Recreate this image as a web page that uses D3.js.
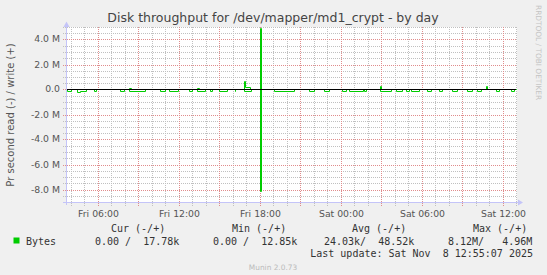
<!DOCTYPE html>
<html>
<head>
<meta charset="utf-8">
<script src="https://cdn.jsdelivr.net/npm/d3@7"></script>
<style>
  body { margin: 0; background: #f0f0f0; }
  svg { display: block; }
  text { font-family: "DejaVu Sans", sans-serif; }
  .mono { font-family: "DejaVu Sans Mono", monospace; white-space: pre; }
</style>
</head>
<body>
<svg id="munin-chart"></svg>
<script>
const chartTitle = "Disk throughput for /dev/mapper/md1_crypt - by day";
const yAxisTitle = "Pr second read (-) / write (+)";
const seriesName = "Bytes";

// hours since Fri 2025-11-07 00:00 -> bytes/s (each value holds until next time)
const readHours = [
  3.667, 3.74, 4.04, 4.48, 4.70, 5.15, 5.74, 5.89, 7.67, 7.96, 8.33, 9.52,
  10.63, 11.0, 11.30, 11.96, 12.78, 13.0, 13.37, 13.96, 14.33, 14.48, 15.0, 15.59,
  16.15, 16.22, 16.85, 17.37, 18.02, 18.10, 19.07, 20.56, 21.67, 22.04, 22.78, 23.15,
  24.11, 24.41, 24.63, 25.63, 25.74, 25.89, 26.93, 27.74, 28.11, 28.56, 28.85, 29.07,
  29.22, 29.81, 30.41, 30.70, 31.30, 31.52, 32.26, 32.63, 33.37, 33.74, 34.11, 34.41,
  35.52, 35.74, 36.63, 36.85, 37.0
];
const readValues = [
  0, -80e3, 0, -200e3, -100e3, 0, -80e3, 0, -100e3, 0, -100e3, 0,
  -80e3, 0, -100e3, 0, -80e3, 0, -100e3, 0, -80e3, 0, -100e3, 0,
  -80e3, 0, -100e3, 0, -8.12e6, 0, -100e3, 0, -80e3, 0, -100e3, 0,
  -80e3, 0, -100e3, 0, -80e3, 0, -100e3, 0, -100e3, 0, -80e3, 0,
  -100e3, 0, -80e3, 0, -80e3, 0, -100e3, 0, -100e3, 0, -80e3, 0,
  -80e3, 0, -80e3, 0, 0
];
const writeHours = [
  3.667, 8.33, 8.45, 8.60, 13.37, 13.50, 16.85, 16.95, 17.30, 18.06, 18.14,
  26.90, 27.0, 28.85, 28.95, 34.75, 34.85, 35.52, 35.60, 37.0
];
const writeValues = [
  0, 150e3, 50e3, 0, 100e3, 0, 700e3, 180e3, 0, 4.96e6, 0,
  250e3, 0, 80e3, 0, 300e3, 0, 80e3, 0, 0
];

const yTickValues = [-8e6, -6e6, -4e6, -2e6, 0, 2e6, 4e6];
const xLabelHours = [6, 12, 18, 24, 30, 36];

const legendHeaders = ["Cur (-/+)", "Min (-/+)", "Avg (-/+)", "Max (-/+)"];
const legendValues = ["0.00 /  17.78k", "0.00 /  12.85k", "24.03k/  48.52k", "8.12M/   4.96M"];
const lastUpdate = "Last update: Sat Nov  8 12:55:07 2025";
const footerText = "Munin 2.0.73";
const watermarkText = "RRDTOOL / TOBI OETIKER";

// Graph Dimensions
const totalWidth = 547;
const totalHeight = 275;
const margin = { top: 27, left: 66 };
const graphWidth = 450;
const graphHeight = 175;
const lineColor = "#00cc00";

const friday = new Date(2025, 10, 7);
const hourToDate = (h) => new Date(friday.getTime() + h * 3600e3);

///////////////////////////////////////////////////
//////////////// Set the Scales ///////////////////
///////////////////////////////////////////////////

const xScale = d3
  .scaleTime()
  .domain([hourToDate(3 + 40 / 60), hourToDate(37)])
  .rangeRound([0, graphWidth]);

const yScale = d3.scaleLinear().domain([-9e6, 5e6]).rangeRound([graphHeight, 0]);

const svgRoot = d3.select("#munin-chart").attr("width", totalWidth).attr("height", totalHeight);
svgRoot.append("rect").attr("width", totalWidth).attr("height", totalHeight).attr("fill", "#f0f0f0");

const svg = svgRoot.append("g").attr("transform", "translate(" + margin.left + "," + margin.top + ")");

// chart background
svg.append("rect").attr("width", graphWidth + 1).attr("height", graphHeight + 1).attr("fill", "#fff");

///////////////////////////////////////////////////
/////////////////// Grid lines ////////////////////
///////////////////////////////////////////////////

const minorColor = "#c0c0c0";
const majorColor = "#e08c8c";

const hGrid = (values, color) =>
  svg
    .append("g")
    .selectAll("line")
    .data(values)
    .enter()
    .append("line")
    .attr("x1", -3)
    .attr("x2", graphWidth)
    .attr("y1", (d) => yScale(d) + 0.5)
    .attr("y2", (d) => yScale(d) + 0.5)
    .attr("stroke", color)
    .attr("stroke-dasharray", "1,1");

const vGrid = (values, color) =>
  svg
    .append("g")
    .selectAll("line")
    .data(values)
    .enter()
    .append("line")
    .attr("x1", (d) => xScale(d) + 0.5)
    .attr("x2", (d) => xScale(d) + 0.5)
    .attr("y1", graphHeight + 4)
    .attr("y2", 0)
    .attr("stroke", color)
    .attr("stroke-dasharray", "1,1");

// minor grid skips the positions of the major grid
hGrid(d3.range(-9e6, 5e6 + 1, 0.5e6).filter((d) => d % 2e6 !== 0), minorColor);
vGrid(xScale.ticks(d3.timeHour.every(1)).filter((d) => d.getHours() % 3 !== 0), minorColor);
hGrid(d3.range(-8e6, 5e6, 2e6), majorColor);
vGrid(xScale.ticks(d3.timeHour.every(3)), majorColor);

///////////////////////////////////////////////////
////////////////// Axis labels ////////////////////
///////////////////////////////////////////////////

svg
  .append("g")
  .attr("transform", "translate(0," + graphHeight + ")")
  .call(
    d3
      .axisBottom(xScale)
      .tickValues(xLabelHours.map(hourToDate))
      .tickSize(0)
      .tickPadding(8)
      .tickFormat(d3.timeFormat("%a %H:%M"))
  )
  .call((g) => g.select(".domain").remove())
  .call((g) => g.selectAll("text").attr("fill", "#555").style("font-size", "9.3px").style("font-family", "DejaVu Sans"));

svg
  .append("g")
  .call(
    d3
      .axisLeft(yScale)
      .tickValues(yTickValues)
      .tickSize(0)
      .tickPadding(6)
      .tickFormat((d) => (d === 0 ? "0.0" : (d / 1e6).toFixed(1) + " M"))
  )
  .call((g) => g.select(".domain").remove())
  .call((g) => g.selectAll("text").attr("fill", "#555").style("font-size", "9.3px").style("font-family", "DejaVu Sans"));

///////////////////////////////////////////////////
/////////////// Render the series /////////////////
///////////////////////////////////////////////////

const lineFunction = d3
  .line()
  .x((d) => xScale(hourToDate(d[0])))
  .y((d) => yScale(d[1]))
  .curve(d3.curveStepAfter);

const lines = svg.append("g").attr("transform", "translate(0.5,0.5)");
lines
  .append("path")
  .attr("d", lineFunction(d3.zip(readHours, readValues)))
  .attr("fill", "none")
  .attr("stroke", lineColor)
  .attr("stroke-width", 1);
lines
  .append("path")
  .attr("d", lineFunction(d3.zip(writeHours, writeValues)))
  .attr("fill", "none")
  .attr("stroke", lineColor)
  .attr("stroke-width", 1);

// zero rule
svg
  .append("line")
  .attr("x1", 0)
  .attr("x2", graphWidth)
  .attr("y1", yScale(0) + 0.5)
  .attr("y2", yScale(0) + 0.5)
  .attr("stroke", "#000")
  .attr("stroke-width", 1);

///////////////////////////////////////////////////
/////////////////// Axis lines ////////////////////
///////////////////////////////////////////////////

const axisColor = "#c4c4f8";
svg
  .append("line")
  .attr("x1", -3)
  .attr("x2", graphWidth + 3)
  .attr("y1", graphHeight + 0.5)
  .attr("y2", graphHeight + 0.5)
  .attr("stroke", axisColor);
svg
  .append("path")
  .attr("d", d3.line()([[graphWidth + 2, graphHeight - 2.5], [graphWidth + 7, graphHeight + 0.5], [graphWidth + 2, graphHeight + 3.5]]) + "Z")
  .attr("fill", axisColor);
svg
  .append("line")
  .attr("x1", 0.5)
  .attr("x2", 0.5)
  .attr("y1", graphHeight + 3)
  .attr("y2", -3)
  .attr("stroke", axisColor);
svg
  .append("path")
  .attr("d", d3.line()([[-2.5, 0], [0.5, -5.5], [3.5, 0]]) + "Z")
  .attr("fill", axisColor);

///////////////////////////////////////////////////
///////////////// Titles & legend /////////////////
///////////////////////////////////////////////////

svgRoot
  .append("text")
  .attr("x", 273)
  .attr("y", 22)
  .attr("text-anchor", "middle")
  .attr("fill", "#444")
  .style("font-size", "12.5px")
  .text(chartTitle);

svgRoot
  .append("text")
  .attr("transform", "translate(14,115) rotate(-90)")
  .attr("text-anchor", "middle")
  .attr("fill", "#555")
  .style("font-size", "10px")
  .text(yAxisTitle);

svgRoot
  .append("text")
  .attr("transform", "translate(535.5,5) rotate(90)")
  .attr("fill", "#c4c4c4")
  .style("font-size", "7.4px")
  .text(watermarkText);

const headerX = [111, 232, 352, 473];
const valueX = [95, 213, 324, 448];

svgRoot
  .selectAll(".legend-header")
  .data(legendHeaders)
  .enter()
  .append("text")
  .attr("class", "mono legend-header")
  .attr("x", (d, i) => headerX[i])
  .attr("y", 232)
  .attr("fill", "#333")
  .style("font-size", "10px")
  .text((d) => d);

svgRoot
  .append("rect")
  .attr("x", 13.5)
  .attr("y", 237.5)
  .attr("width", 6)
  .attr("height", 6)
  .attr("fill", lineColor);

svgRoot
  .append("text")
  .attr("class", "mono")
  .attr("x", 26)
  .attr("y", 245)
  .attr("fill", "#333")
  .style("font-size", "10px")
  .text(seriesName);

svgRoot
  .selectAll(".legend-value")
  .data(legendValues)
  .enter()
  .append("text")
  .attr("class", "mono legend-value")
  .attr("x", (d, i) => valueX[i])
  .attr("y", 245)
  .attr("fill", "#333")
  .style("font-size", "10px")
  .text((d) => d);

svgRoot
  .append("text")
  .attr("class", "mono")
  .attr("x", 533)
  .attr("y", 257)
  .attr("text-anchor", "end")
  .attr("fill", "#333")
  .style("font-size", "10px")
  .text(lastUpdate);

svgRoot
  .append("text")
  .attr("x", 273)
  .attr("y", 270)
  .attr("text-anchor", "middle")
  .attr("fill", "#bbb")
  .style("font-size", "7.4px")
  .text(footerText);
</script>
</body>
</html>
